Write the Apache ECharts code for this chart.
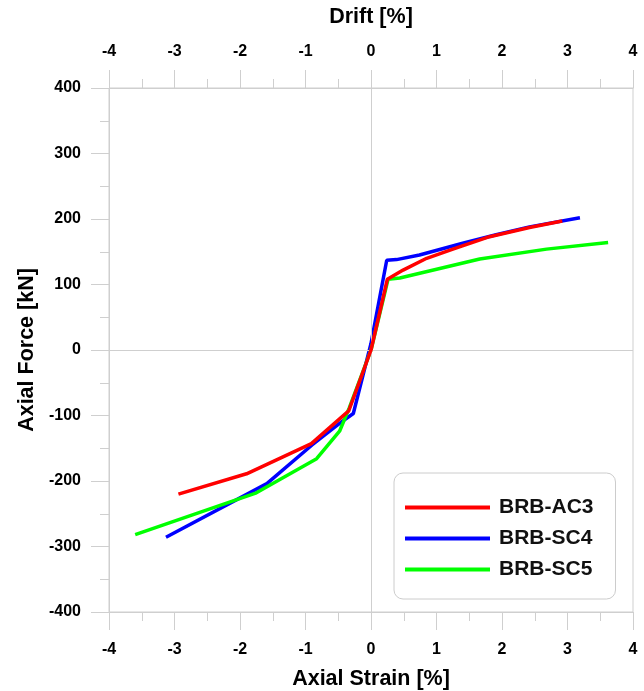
<!DOCTYPE html>
<html>
<head>
<meta charset="utf-8">
<script src="https://cdn.jsdelivr.net/npm/echarts@6/dist/echarts.min.js"></script>
<style>
html,body{margin:0;padding:0;background:#fff;}
#chart{width:644px;height:691px;}
</style>
</head>
<body>
<div id="chart"></div>
<script>
// Data
const seriesNames = ['BRB-AC3', 'BRB-SC4', 'BRB-SC5'];
const ac3Strain = [-2.94, -1.90, -0.91, -0.34, 0, 0.25, 0.49, 0.85, 1.25, 1.81, 2.42, 2.92];
const ac3Force  = [-220, -189, -143, -93, 0, 108, 122, 140, 154, 173, 187, 197];
const sc4Strain = [-3.13, -1.59, -0.90, -0.48, -0.27, 0, 0.24, 0.39, 0.74, 1.40, 1.91, 2.42, 3.19];
const sc4Force  = [-286, -204, -145, -112, -97, 10, 137, 138, 145, 163, 176, 188, 202];
const sc5Strain = [-3.60, -1.75, -0.83, -0.48, -0.33, 0, 0.26, 0.44, 1.66, 2.68, 3.62];
const sc5Force  = [-282, -218, -166, -124, -88, 0, 108, 110, 139, 154, 164];
const xRange = [-4, 4];
const yRange = [-400, 400];

function pairs(xs, ys) { return xs.map((x, i) => [x, ys[i]]); }

const FONT = '"Liberation Sans", Arial, sans-serif';
const GRAY = '#cfcfcf';
const titleStyle = { color: '#000', fontFamily: FONT, fontWeight: 'bold', fontSize: 21.5 };

const axisCommon = {
  axisLine: { show: true, onZero: false, lineStyle: { color: GRAY, width: 1 } },
  axisTick: { show: true, inside: false, length: 18, lineStyle: { color: GRAY, width: 1 } },
  minorTick: { show: true, splitNumber: 2, length: 9, lineStyle: { color: GRAY, width: 1 } },
  splitLine: { show: false },
  axisLabel: { color: '#000', fontFamily: FONT, fontWeight: 'bold', fontSize: 16 }
};

const chart = echarts.init(document.getElementById('chart'), null, { renderer: 'canvas' });
chart.setOption({
  animation: false,
  backgroundColor: '#fff',
  grid: { left: 109, right: 11, top: 88, bottom: 79, containLabel: false, outerBoundsMode: 'none',
          show: true, borderColor: GRAY, borderWidth: 1, backgroundColor: 'transparent' },
  xAxis: [
    Object.assign({}, axisCommon, {
      type: 'value', position: 'bottom', min: xRange[0], max: xRange[1], interval: 1,
      name: 'Axial Strain [%]', nameLocation: 'middle', nameGap: 56,
      nameTextStyle: titleStyle,
      axisLabel: Object.assign({}, axisCommon.axisLabel, { margin: 30 })
    }),
    Object.assign({}, axisCommon, {
      type: 'value', position: 'top', min: xRange[0], max: xRange[1], interval: 1,
      name: 'Drift [%]', nameLocation: 'middle', nameGap: 60,
      nameTextStyle: titleStyle,
      axisLabel: Object.assign({}, axisCommon.axisLabel, { margin: 28 })
    })
  ],
  yAxis: [
    Object.assign({}, axisCommon, {
      type: 'value', position: 'left', min: yRange[0], max: yRange[1], interval: 100,
      name: 'Axial Force [kN]', nameLocation: 'middle', nameGap: 71,
      nameTextStyle: titleStyle,
      axisLabel: Object.assign({}, axisCommon.axisLabel, { margin: 28 })
    })
  ],
  legend: {
    orient: 'vertical',
    left: 394, top: 473,
    data: seriesNames,
    icon: 'rect',
    itemWidth: 85, itemHeight: 4,
    itemGap: 10,
    padding: [24, 22, 19, 11],
    backgroundColor: '#fff',
    borderColor: '#cccccc', borderWidth: 1, borderRadius: 9,
    textStyle: { color: '#111', fontFamily: FONT, fontWeight: 'bold', fontSize: 21, padding: [0, 0, 0, 4] }
  },
  series: [
    {
      name: 'zero', type: 'line', data: [], z: 1, silent: true,
      markLine: {
        silent: true, symbol: ['none', 'none'], animation: false,
        label: { show: false },
        lineStyle: { color: GRAY, width: 1, type: 'solid' },
        data: [{ xAxis: 0 }, { yAxis: 0 }]
      }
    },
    { name: 'BRB-SC4', type: 'line', data: pairs(sc4Strain, sc4Force), symbol: 'none', z: 3,
      lineStyle: { color: '#0000ff', width: 3.5 }, itemStyle: { color: '#0000ff' } },
    { name: 'BRB-SC5', type: 'line', data: pairs(sc5Strain, sc5Force), symbol: 'none', z: 4,
      lineStyle: { color: '#00ff00', width: 3.5 }, itemStyle: { color: '#00ff00' } },
    { name: 'BRB-AC3', type: 'line', data: pairs(ac3Strain, ac3Force), symbol: 'none', z: 5,
      lineStyle: { color: '#ff0000', width: 3.5 }, itemStyle: { color: '#ff0000' } }
  ]
});
</script>
</body>
</html>
